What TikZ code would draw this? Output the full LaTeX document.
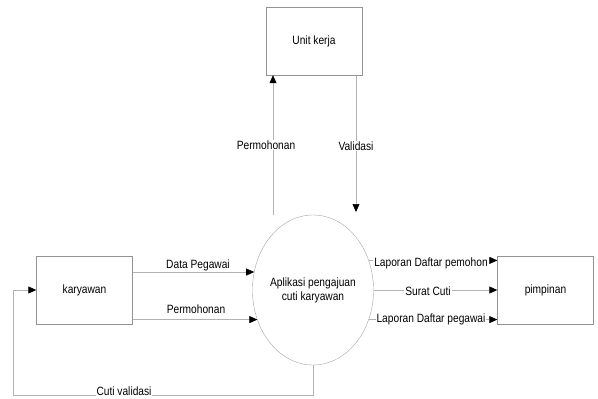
\documentclass[tikz,border=0pt]{standalone}
\usepackage{fontspec}
\setmainfont[FakeStretch=0.85]{Liberation Sans}
\usetikzlibrary{shapes.geometric,arrows.meta}
\begin{document}
\begin{tikzpicture}[
    x=1pt, y=-1pt,
    font=\fontsize{12}{14}\selectfont,
    box/.style={draw=gray!85, minimum width=96pt, minimum height=68pt, inner sep=0pt},
    proc/.style={draw=gray!70, ellipse, minimum width=110pt, minimum height=150pt, align=center, inner sep=0pt, outer sep=0pt},
    lbl/.style={fill=white, inner sep=1pt},
    flow/.style={draw=gray!60, line width=0.6pt},
    >={Triangle[black, length=8pt, width=7pt]}
]
\useasboundingbox (0,0) rectangle (598,399);

% Nodes
\node[box] (unit) at (314,41) {Unit kerja};
\node[box] (kary) at (84.5,290) {karyawan};
\node[box] (pim) at (545.5,290) {pimpinan};
\node[proc] (app) at (313,290) {Aplikasi pengajuan\\cuti karyawan};

\coordinate (pstart) at (273,215);
\coordinate (vend) at (356,212);
\coordinate (cbot) at (13,395);

% Edges
\draw[flow,->] (pstart) -- (pstart |- unit.south);
\draw[flow,->] (vend |- unit.south) -- (vend);
\draw[flow,->] (app.163 -| kary.east) -- (app.163);
\draw[flow,->] (app.208 -| kary.east) -- (app.208);
\draw[flow,->] (app.28) -- (app.28 -| pim.west);
\draw[flow,->] (app.east) -- (app.east -| pim.west);
\draw[flow,->] (app.332) -- (app.332 -| pim.west);
\draw[flow,->] (app.south) |- (cbot) |- (kary.west);

% Labels
\node[lbl] (l1) at (266,145) {Permohonan};
\node[lbl] (l2) at (356,146) {Validasi};
\node[lbl] (l3) at (198,265) {Data Pegawai};
\node[lbl] (l4) at (196,309) {Permohonan};
\node[lbl] (l5) at (431,263) {Laporan Daftar pemohon};
\node[lbl] (l6) at (428,291) {Surat Cuti};
\node[lbl] (l7) at (431,319) {Laporan Daftar pegawai};
\node[lbl] (l8) at (124,391) {Cuti validasi};

\end{tikzpicture}
\end{document}
